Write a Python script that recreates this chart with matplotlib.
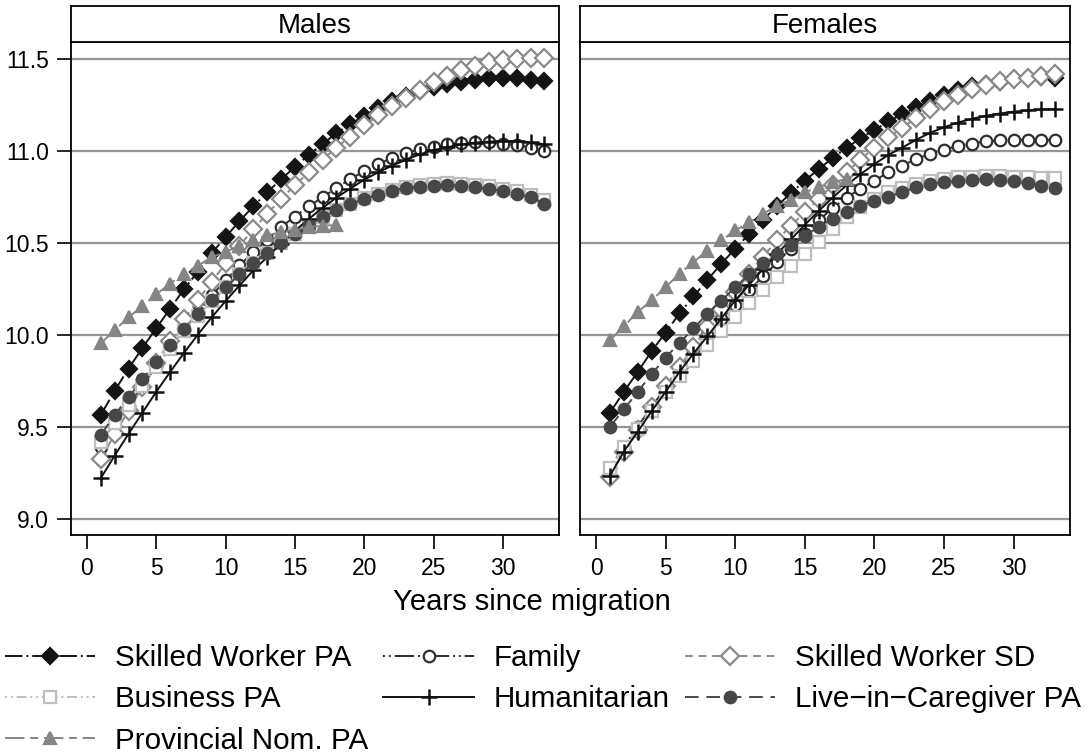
import numpy as np
import matplotlib
matplotlib.use('Agg')
import matplotlib.pyplot as plt

plt.rcParams['font.family'] = ['Liberation Sans', 'DejaVu Sans']

years = list(range(1, 34))
years_prov = list(range(1, 19))

# males
sw_pa_m = [9.566, 9.697, 9.818, 9.93, 10.038, 10.143, 10.25, 10.345, 10.446, 10.533, 10.62, 10.70, 10.777,
           10.847, 10.915, 10.98, 11.04, 11.098, 11.148, 11.193, 11.236, 11.272, 11.302, 11.328, 11.348,
           11.364, 11.377, 11.388, 11.396, 11.40, 11.397, 11.39, 11.38]
fam_m = [9.39, 9.505, 9.615, 9.725, 9.83, 9.935, 10.03, 10.125, 10.216, 10.298, 10.379, 10.451, 10.518,
         10.587, 10.645, 10.70, 10.75, 10.80, 10.85, 10.89, 10.93, 10.963, 10.988, 11.012, 11.024, 11.039,
         11.045, 11.048, 11.048, 11.042, 11.035, 11.02, 11.003]
sw_sd_m = [9.327, 9.46, 9.59, 9.72, 9.85, 9.97, 10.085, 10.19, 10.29, 10.39, 10.485, 10.575, 10.66, 10.74,
           10.815, 10.885, 10.955, 11.02, 11.08, 11.14, 11.195, 11.245, 11.29, 11.335, 11.375, 11.41, 11.44,
           11.465, 11.485, 11.497, 11.503, 11.506, 11.505]
bus_m = [9.42, 9.52, 9.62, 9.725, 9.825, 9.925, 10.02, 10.105, 10.185, 10.26, 10.33, 10.39, 10.445, 10.50,
         10.548, 10.595, 10.64, 10.68, 10.715, 10.745, 10.77, 10.79, 10.805, 10.815, 10.822, 10.825, 10.823,
         10.818, 10.81, 10.797, 10.782, 10.76, 10.735]
hum_m = [9.222, 9.345, 9.463, 9.578, 9.692, 9.80, 9.903, 10.003, 10.097, 10.185, 10.27, 10.352, 10.424,
         10.497, 10.566, 10.632, 10.692, 10.748, 10.797, 10.845, 10.885, 10.921, 10.953, 10.983, 11.006,
         11.022, 11.037, 11.047, 11.052, 11.055, 11.055, 11.048, 11.038]
care_m = [9.457, 9.566, 9.661, 9.759, 9.855, 9.948, 10.033, 10.117, 10.19, 10.261, 10.33, 10.392, 10.446,
          10.503, 10.551, 10.596, 10.641, 10.681, 10.712, 10.741, 10.764, 10.786, 10.80, 10.808, 10.813,
          10.816, 10.813, 10.804, 10.795, 10.783, 10.768, 10.75, 10.715]
prov_m = [9.955, 10.027, 10.097, 10.158, 10.222, 10.28, 10.334, 10.377, 10.424, 10.452, 10.487, 10.515,
          10.542, 10.56, 10.573, 10.588, 10.596, 10.598]

# females
sw_pa_f = [9.578, 9.692, 9.80, 9.913, 10.014, 10.118, 10.21, 10.30, 10.388, 10.47, 10.55, 10.628, 10.702,
           10.772, 10.84, 10.903, 10.963, 11.017, 11.072, 11.115, 11.162, 11.202, 11.238, 11.274, 11.305,
           11.332, 11.355, 11.368, 11.379, 11.392, 11.40, 11.404, 11.40]
fam_f = [9.277, 9.394, 9.502, 9.61, 9.715, 9.815, 9.91, 10.0, 10.085, 10.165, 10.243, 10.32, 10.395,
         10.47, 10.55, 10.625, 10.69, 10.748, 10.797, 10.84, 10.885, 10.921, 10.958, 10.985, 11.008, 11.03,
         11.042, 11.053, 11.06, 11.062, 11.062, 11.062, 11.061]
sw_sd_f = [9.231, 9.367, 9.484, 9.611, 9.723, 9.828, 9.936, 10.045, 10.144, 10.234, 10.333, 10.427,
           10.515, 10.596, 10.668, 10.741, 10.815, 10.885, 10.955, 11.02, 11.075, 11.129, 11.18, 11.228,
           11.272, 11.308, 11.337, 11.362, 11.38, 11.392, 11.40, 11.41, 11.419]
bus_f = [9.28, 9.39, 9.49, 9.59, 9.69, 9.775, 9.858, 9.945, 10.025, 10.10, 10.177, 10.247, 10.315, 10.378,
         10.44, 10.505, 10.575, 10.64, 10.695, 10.741, 10.777, 10.80, 10.82, 10.836, 10.849, 10.858, 10.862,
         10.866, 10.866, 10.862, 10.858, 10.857, 10.855]
hum_f = [9.235, 9.367, 9.475, 9.587, 9.692, 9.80, 9.90, 9.994, 10.09, 10.189, 10.274, 10.361, 10.442,
         10.52, 10.60, 10.675, 10.748, 10.815, 10.875, 10.93, 10.98, 11.02, 11.062, 11.10, 11.13, 11.156,
         11.176, 11.193, 11.205, 11.215, 11.222, 11.227, 11.229]
care_f = [9.502, 9.596, 9.692, 9.788, 9.878, 9.958, 10.036, 10.117, 10.186, 10.261, 10.33, 10.39, 10.442,
          10.492, 10.54, 10.588, 10.632, 10.668, 10.704, 10.732, 10.753, 10.777, 10.804, 10.822, 10.831,
          10.84, 10.844, 10.849, 10.844, 10.836, 10.825, 10.813, 10.798]
prov_f = [9.972, 10.048, 10.126, 10.189, 10.261, 10.334, 10.397, 10.46, 10.515, 10.569, 10.613, 10.659,
          10.704, 10.735, 10.777, 10.804, 10.831, 10.849]

panels = ['Males', 'Females']
labels = ['Skilled Worker PA', 'Family', 'Skilled Worker SD', 'Business PA',
          'Humanitarian', 'Live\u2212in\u2212Caregiver PA', 'Provincial Nom. PA']
data = {
    'Males': [sw_pa_m, fam_m, sw_sd_m, bus_m, hum_m, care_m, prov_m],
    'Females': [sw_pa_f, fam_f, sw_sd_f, bus_f, hum_f, care_f, prov_f],
}

# color, marker, filled, linestyle, markersize
styles = [
    ('#141414', 'D', True, (0, (9, 2, 1, 2)), 8.3),
    ('#2e2e2e', 'o', False, (0, (1, 2, 1, 2, 10, 2)), 8.3),
    ('#8a8a8a', 'D', False, (0, (4, 3)), 8.8),
    ('#bebebe', 's', False, (0, (1, 2, 1, 2, 5, 2)), 8.3),
    ('#111111', '+', True, '-', 11.5),
    ('#474747', 'o', True, (0, (7, 4)), 8.3),
    ('#858585', '^', True, (0, (10, 3, 4, 3)), 8.5),
]

fig = plt.figure(figsize=(10.92, 7.55), dpi=100)
W, H = 1092, 755
ax_l = [71, 580]
ax_w = [488, 490]
top, bot = 42, 535

handles = {}
for i, sex in enumerate(panels):
    ax = fig.add_axes([ax_l[i] / W, 1 - bot / H, ax_w[i] / W, (bot - top) / H])
    for v in [9.0, 9.5, 10.0, 10.5, 11.0, 11.5]:
        ax.axhline(v, color='#959595', lw=1.6, zorder=0)
    for j, series in enumerate(data[sex]):
        col, mk, filled, ls, ms = styles[j]
        xs = years_prov if j == 6 else years
        line, = ax.plot(xs, series, color=col, ls=ls, lw=1.4, marker=mk, ms=ms,
                        mfc=col if filled else 'white', mec=col, mew=1.6 if mk != '+' else 1.8,
                        label=labels[j])
        handles[labels[j]] = line
    ax.set_xlim(-1.15, 34.05)
    ax.set_ylim(8.913, 11.594)
    ax.set_xticks([0, 5, 10, 15, 20, 25, 30])
    ax.set_yticks([9.0, 9.5, 10.0, 10.5, 11.0, 11.5])
    ax.set_yticklabels(['9.0', '9.5', '10.0', '10.5', '11.0', '11.5'])
    ax.tick_params(direction='out', length=10, width=1.2, labelsize=16.5, pad=6)
    if i == 1:
        ax.tick_params(axis='y', left=False, labelleft=False)
    for s in ax.spines.values():
        s.set_linewidth(1.3)

    # header strip
    hd = fig.add_axes([ax_l[i] / W, 1 - top / H, ax_w[i] / W, (top - 6) / H])
    hd.set_xticks([])
    hd.set_yticks([])
    for s in hd.spines.values():
        s.set_linewidth(1.3)
    hd.text(0.5, 0.45, sex, ha='center', va='center', fontsize=20, transform=hd.transAxes)

fig.text(532 / W, 1 - 610 / H, 'Years since migration', ha='center', va='baseline', fontsize=21)

order = ['Skilled Worker PA', 'Business PA', 'Provincial Nom. PA', 'Family', 'Humanitarian',
         'Skilled Worker SD', 'Live\u2212in\u2212Caregiver PA']
fig.legend([handles[k] for k in order], order, loc='upper left', bbox_to_anchor=(5 / W, 1 - 644 / H),
           ncol=3, frameon=False, fontsize=21.3, numpoints=1, handlelength=3.05, handletextpad=0.68,
           columnspacing=0.5, labelspacing=0.45, borderpad=0, borderaxespad=0)

fig.savefig('out.png', dpi=100)
